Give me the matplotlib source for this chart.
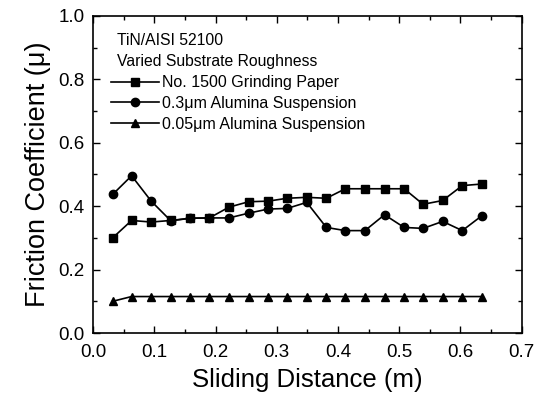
import matplotlib
matplotlib.use("Agg")
import matplotlib.pyplot as plt
from matplotlib.ticker import MultipleLocator

plt.rcParams['font.family'] = ['Liberation Sans', 'DejaVu Sans']

distance = [0.032, 0.063, 0.095, 0.127, 0.159, 0.190, 0.222, 0.254, 0.286, 0.317,
            0.349, 0.381, 0.412, 0.444, 0.476, 0.508, 0.539, 0.571, 0.603, 0.635]
grinding_1500 = [0.30, 0.355, 0.35, 0.355, 0.362, 0.363, 0.397, 0.414, 0.416, 0.425,
                 0.428, 0.425, 0.455, 0.455, 0.455, 0.455, 0.406, 0.418, 0.465, 0.47]
alumina_03 = [0.437, 0.496, 0.416, 0.354, 0.362, 0.363, 0.363, 0.378, 0.391, 0.393,
              0.412, 0.333, 0.323, 0.323, 0.373, 0.333, 0.33, 0.352, 0.323, 0.37]
alumina_005 = [0.10, 0.115, 0.115, 0.115, 0.115, 0.115, 0.115, 0.115, 0.115, 0.115,
               0.115, 0.115, 0.115, 0.115, 0.115, 0.115, 0.115, 0.115, 0.115, 0.115]

labels = ["No. 1500 Grinding Paper", "0.3\u03bcm Alumina Suspension", "0.05\u03bcm Alumina Suspension"]
title_lines = ["TiN/AISI 52100", "Varied Substrate Roughness"]

fig = plt.figure(figsize=(5.44, 4.0), dpi=100)
ax = fig.add_axes([0.171, 0.1675, 0.788, 0.7925])

lw = 1.2
ax.plot(distance, grinding_1500, '-s', color='black', lw=lw, ms=5.5, label=labels[0])
ax.plot(distance, alumina_03, '-o', color='black', lw=lw, ms=6, label=labels[1])
ax.plot(distance, alumina_005, '-^', color='black', lw=lw, ms=5.5, label=labels[2])

ax.set_xlim(0.0, 0.7)
ax.set_ylim(0.0, 1.0)
ax.xaxis.set_major_locator(MultipleLocator(0.1))
ax.xaxis.set_minor_locator(MultipleLocator(0.05))
ax.yaxis.set_major_locator(MultipleLocator(0.2))
ax.yaxis.set_minor_locator(MultipleLocator(0.1))
ax.xaxis.set_major_formatter(matplotlib.ticker.FormatStrFormatter('%.1f'))
ax.yaxis.set_major_formatter(matplotlib.ticker.FormatStrFormatter('%.1f'))
ax.tick_params(which='both', direction='in', top=True, right=True, width=1.0)
ax.tick_params(which='major', length=5, labelsize=13.5)
ax.tick_params(which='minor', length=3)
ax.tick_params(axis='x', which='major', pad=8)
ax.tick_params(axis='y', which='major', pad=6)
for s in ax.spines.values():
    s.set_linewidth(1.2)

ax.set_xlabel("Sliding Distance (m)", fontsize=18.5, labelpad=5)
ax.set_ylabel("Friction Coefficient (\u03bc)", fontsize=19.5, labelpad=5)

ax.text(0.055, 0.924, title_lines[0], transform=ax.transAxes, fontsize=11.3, va='center', ha='left')
ax.text(0.055, 0.858, title_lines[1], transform=ax.transAxes, fontsize=11.3, va='center', ha='left')

leg = ax.legend(loc='upper left', bbox_to_anchor=(0.041, 0.813), frameon=False, fontsize=11.5,
                handlelength=3.0, handletextpad=0.2, labelspacing=0.36, borderaxespad=0,
                borderpad=0.0)

fig.savefig("out.png", dpi=100)
